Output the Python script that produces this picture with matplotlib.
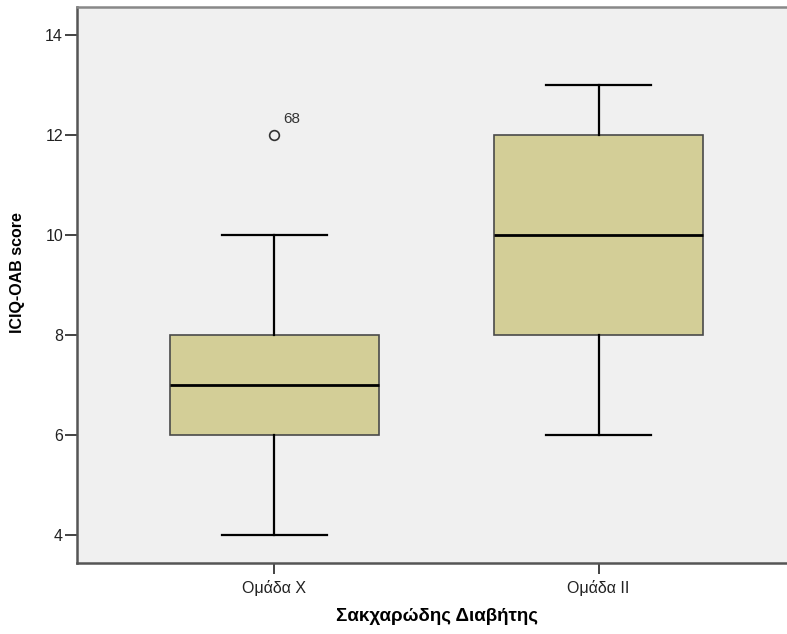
import matplotlib
matplotlib.use("Agg")
from matplotlib import pyplot as plt

groups = ['Ομάδα Χ', 'Ομάδα ΙΙ']
whislo = [4, 6]
q1 = [6, 8]
med = [7, 10]
q3 = [8, 12]
whishi = [10, 13]
fliers = [[12], []]
flier_ids = [['68'], []]
y_ticks = [4, 6, 8, 10, 12, 14]

plt.rcParams['font.family'] = ['Liberation Sans', 'DejaVu Sans']

fig = plt.figure(figsize=(7.87, 6.34), dpi=100)
ax = fig.add_axes([77 / 787, 71 / 634, 719 / 787, 556 / 634])
ax.set_facecolor('#f0f0f0')

stats = []
for i in range(len(groups)):
    stats.append({'label': groups[i], 'whislo': whislo[i], 'q1': q1[i],
                  'med': med[i], 'q3': q3[i], 'whishi': whishi[i],
                  'fliers': fliers[i]})

ax.bxp(stats, positions=range(len(groups)), widths=0.646, patch_artist=True,
       showfliers=True,
       boxprops=dict(facecolor='#d3ce97', edgecolor='#4a4a4a', linewidth=1.2),
       medianprops=dict(color='black', linewidth=2),
       whiskerprops=dict(color='black', linewidth=1.6),
       capprops=dict(color='black', linewidth=1.6),
       capwidths=0.326,
       flierprops=dict(marker='o', markerfacecolor='none', markeredgecolor='#333333',
                       markersize=7, markeredgewidth=1.2))

for i in range(len(groups)):
    for v, lab in zip(fliers[i], flier_ids[i]):
        ax.annotate(lab, (i, v), xytext=(6, 6), textcoords='offset points',
                    fontsize=11, color='#333333', ha='left', va='bottom')

ax.set_xlim(-0.609, 1.609)
ax.set_ylim(3.45, 14.55)
ax.set_yticks(y_ticks)
ax.set_xticks(range(len(groups)))
ax.set_xticklabels(groups)
ax.tick_params(axis='y', length=9, width=1.2, pad=1, labelsize=11.5, colors='#222222')
ax.tick_params(axis='x', length=8, width=1.2, pad=4, labelsize=11.5, colors='#222222')

for s in ['left', 'bottom']:
    ax.spines[s].set_color('#555555')
    ax.spines[s].set_linewidth(1.8)
ax.spines['top'].set_color('#888888')
ax.spines['top'].set_linewidth(1.8)
ax.spines['right'].set_visible(False)

ax.set_ylabel('ICIQ-OAB score', fontsize=11.5, fontweight='bold')
ax.yaxis.set_label_coords(-0.072, 0.523)
ax.set_xlabel('Σακχαρώδης Διαβήτης', fontsize=13.5, fontweight='bold', labelpad=9)

fig.savefig('out.png', dpi=100)
